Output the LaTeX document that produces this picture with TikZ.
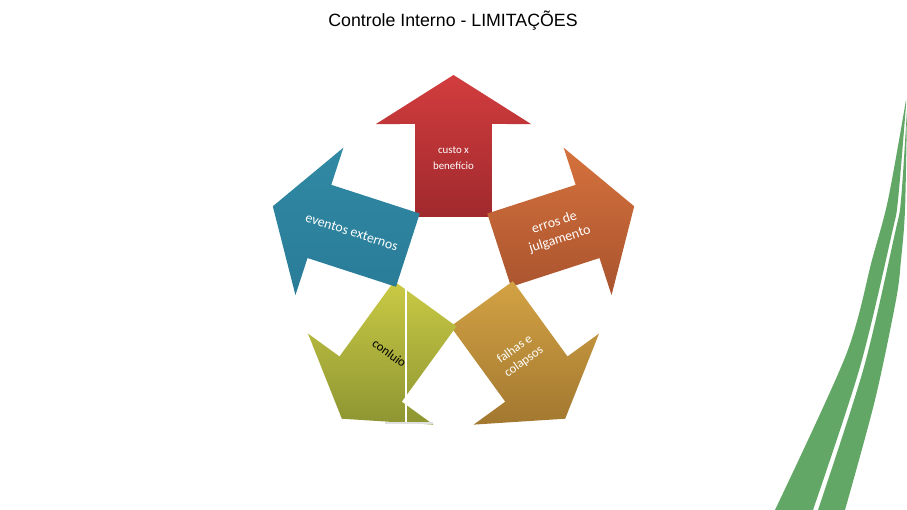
\documentclass[tikz,border=0pt]{standalone}
\usepackage{fontspec}
\setmainfont{Carlito}
\newfontfamily\titlefont{Liberation Sans}
\usetikzlibrary{calc}

\definecolor{custotop}{HTML}{D23D3E}
\definecolor{custobot}{HTML}{A0292D}
\definecolor{errostop}{HTML}{D5723D}
\definecolor{errosbot}{HTML}{A9532E}
\definecolor{falhastop}{HTML}{D3A244}
\definecolor{falhasbot}{HTML}{A27830}
\definecolor{conluiotop}{HTML}{CACA44}
\definecolor{conluiobot}{HTML}{8D9532}
\definecolor{eventostop}{HTML}{3089A4}
\definecolor{eventosbot}{HTML}{2A7C97}
\definecolor{bandgreen}{HTML}{62A765}

\begin{document}
\begin{tikzpicture}[x=0.02cm, y=0.02cm,
lbl/.style = {text=white, align=center, inner sep=0pt,
              font=\fontsize{7.9}{10}\selectfont},
band/.style = {fill=bandgreen}
                   ]
	\useasboundingbox (0,0) rectangle (907,510);

	% title
	\node (title) at (453,489) {\titlefont\fontsize{10.1}{12}\selectfont Controle Interno - LIMITAÇÕES};

	\coordinate (C) at (453.5,245);

	% five arrows round C, gradient follows the page
	\begin{scope}[shift={(C)}]
	\foreach \ang/\tc/\bc in {90/custotop/custobot, 18/errostop/errosbot,
	                          -54/falhastop/falhasbot, 234/conluiotop/conluiobot,
	                          162/eventostop/eventosbot}
	  \shade[top color=\tc, bottom color=\bc]
	     (\ang-38.73:61.53) -- (\ang-15.27:146.16) -- (\ang-28.80:160.9) -- (\ang:190)
	     -- (\ang+28.80:160.9) -- (\ang+15.27:146.16) -- (\ang+38.73:61.53) -- cycle;
	\end{scope}

	% thin lines over the lower left arrow
	\draw[white, line width=0.6pt] (406,222) -- (406,85);
	\draw[black!12, line width=0.6pt] (385,87) -- (433,87);

	% labels
	\node[lbl, font=\fontsize{6.2}{8.7}\selectfont] (custo) at ($(C)+(90:107)$) {custo x\\benefício};
	\node[lbl, rotate=-18] (eventos) at ($(C)+(162:107)$) {eventos externos};
	\node[lbl, rotate=18] (erros) at ($(C)+(18:109)$) {erros de\\julgamento};
	\node[lbl, text=black, rotate=-36, font=\fontsize{7.3}{8.7}\selectfont] (conluio) at ($(C)+(234:109)$) {conluio};
	\node[lbl, rotate=36, font=\fontsize{7.3}{8.7}\selectfont] (falhas) at ($(C)+(-54:112)$) {falhas e\\colapsos};

	% green bands at the right
	\fill[band] plot[smooth] coordinates {(775,0) (846,155) (872,250) (888,310) (906,410)}
	    -- plot[smooth] coordinates {(906,405) (898,310) (892,277) (860,143) (813,0)} -- cycle;
	\fill[band] plot[smooth] coordinates {(818,0) (864,143) (895,277) (901,310) (907,400)}
	    -- plot[smooth] coordinates {(907,400) (905,300) (901,250) (896,210) (875,110) (845,0)} -- cycle;
\end{tikzpicture}
\end{document}
